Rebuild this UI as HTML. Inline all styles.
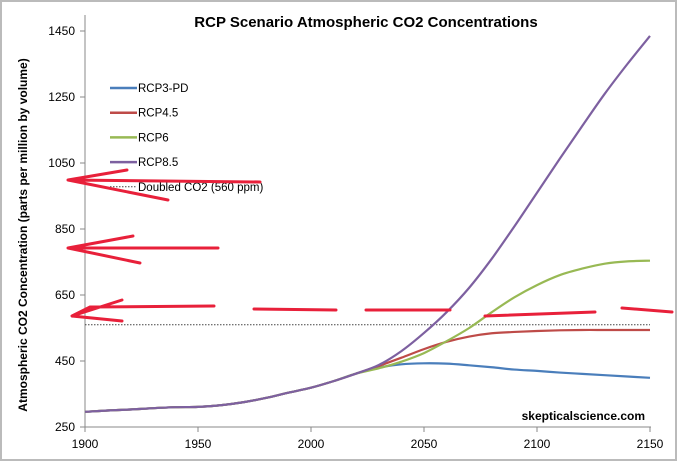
<!DOCTYPE html>
<html><head><meta charset="utf-8"><style>
body{margin:0;background:#fff;}
svg{display:block;font-family:"Liberation Sans",Arial,sans-serif;}
</style></head><body>
<svg id="chart" width="677" height="461">
<rect x="1" y="1" width="675" height="459" fill="#fff" stroke="#bbb" stroke-width="2"/>
<text x="366" y="27" text-anchor="middle" font-size="15" font-weight="bold">RCP Scenario Atmospheric CO2 Concentrations</text>
<text transform="translate(27,235) rotate(-90)" text-anchor="middle" font-size="12" font-weight="bold">Atmospheric CO2 Concentration (parts per million by volume)</text>
<text x="645" y="420" text-anchor="end" font-size="12" font-weight="bold">skepticalscience.com</text>
<g id="axes"></g>
<g id="series"></g>
<g id="legend"></g>
<g fill="none" stroke="#e8203a" stroke-width="3" stroke-linecap="round">
<path d="M127,170 L68,180 L168,200 M68,180 L260,182"/>
<path d="M133,236 L68,248 L140,263 M68,248 L218,248"/>
<path d="M122,300 L72,316 L122,321 M72,316 L90,307 L214,306"/>
<path d="M254,309 L336,310"/><path d="M366,310 L450,310"/><path d="M485,316 L595,312"/><path d="M622,308 L672,312"/>
</g>
</svg>
<script>
const years=[1900,1910,1920,1930,1940,1950,1960,1970,1980,1990,2000,2010,2020,2030,2040,2050,2060,2070,2080,2090,2100,2110,2120,2130,2140,2150];
const base=[296,300,303,307,310,311,316,325,338,354,369,389,412];
const rcp3=base.concat([430,440,443,442,437,431,424,420,415,411,407,403,399]);
const rcp45=base.concat([435,460,486,508,524,534,538,541,543,544,544,544,544]);
const rcp6=base.concat([428,448,474,510,550,598,643,680,710,730,745,752,754]);
const rcp85=base.concat([438,480,535,598,672,760,858,960,1062,1162,1260,1350,1435]);
const yTicks=[250,450,650,850,1050,1250,1450];
const xTicks=[1900,1950,2000,2050,2100,2150];
const doubled=560;
const names=["RCP3-PD","RCP4.5","RCP6","RCP8.5"];
const colors=["#4a7ebb","#be4b48","#98b954","#7d60a0"];
const NS="http://www.w3.org/2000/svg";
const X=v=>85+(v-1900)*(650-85)/250;
const Y=v=>427-(v-250)*(427-31)/1200;
function mk(t,a,p){const e=document.createElementNS(NS,t);for(const k in a)e.setAttribute(k,a[k]);p.appendChild(e);return e;}
const ax=document.getElementById('axes');
let l=mk('line',{x1:85,y1:15,x2:85,y2:427,stroke:'#888'},ax);


l=mk('line',{x1:85,y1:427,x2:651,y2:427,stroke:'#888'},ax);


yTicks.forEach(v=>{mk('line',{x1:80,x2:85,y1:Y(v),y2:Y(v),stroke:'#888'},ax);
const t=mk('text',{x:75,y:Y(v)+4,'text-anchor':'end','font-size':12},ax);t.textContent=v;

});
xTicks.forEach(v=>{mk('line',{x1:X(v),x2:X(v),y1:427,y2:432,stroke:'#888'},ax);
const t=mk('text',{x:X(v),y:448,'text-anchor':'middle','font-size':12},ax);t.textContent=v;

});
const sg=document.getElementById('series');
l=mk('line',{x1:X(1900),x2:X(2150),y1:Y(doubled),y2:Y(doubled),stroke:'#444','stroke-dasharray':'1.5,1.5'},sg);


[rcp3,rcp45,rcp6,rcp85].forEach((s,i)=>{
const pts=years.map((y,j)=>[X(y),Y(s[j])]);
let d='M'+pts[0];
for(let j=0;j<pts.length-1;j++){const p0=pts[j-1]||pts[j],p1=pts[j],p2=pts[j+1],p3=pts[j+2]||p2;
d+=' C'+(p1[0]+(p2[0]-p0[0])/6)+','+(p1[1]+(p2[1]-p0[1])/6)+' '+(p2[0]-(p3[0]-p1[0])/6)+','+(p2[1]-(p3[1]-p1[1])/6)+' '+p2;}
const p=mk('path',{d:d,fill:'none',stroke:colors[i],'stroke-width':2.2},sg);


});
const lg=document.getElementById('legend');
names.concat(['Doubled CO2 (560 ppm)']).forEach((n,i)=>{const y=88+i*24.7;
const g=mk('g',{},lg);


if(i<4)mk('line',{x1:110,x2:137,y1:y,y2:y,stroke:colors[i],'stroke-width':2.5},g);
else mk('line',{x1:110,x2:137,y1:y,y2:y,stroke:'#444','stroke-dasharray':'1.5,1.5'},g);
const t=mk('text',{x:138,y:y+4,'font-size':11.5},g);t.textContent=n;});
</script>
</body></html>
